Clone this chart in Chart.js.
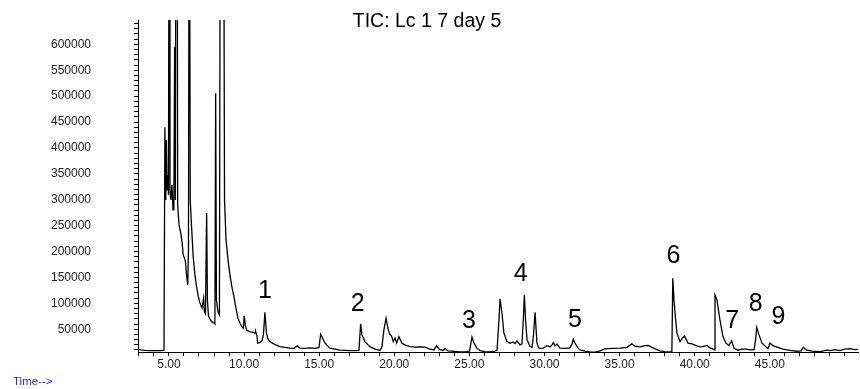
<!DOCTYPE html>
<html lang="en">
<head>
    <meta charset="UTF-8">
    <title>TIC: Lc 1 7 day 5</title>
    <script src="https://cdn.jsdelivr.net/npm/chart.js@4.4.1/dist/chart.umd.min.js"></script>
    <style>
        body {
            margin: 0;
            background: #fff;
        }
        #chart-box {
            width: 860px;
            height: 389px;
        }
    </style>
</head>
<body>
    <div id="chart-box"><canvas id="tic-chart"></canvas></div>

    <script>
        // retention time (min) and total ion count
        const times = [
            2.94, 3.14, 3.40, 3.73, 4.07, 4.40, 4.67, 4.73, 4.79, 4.83, 4.88, 4.93, 4.97, 5.02, 5.07, 5.13, 5.20, 5.27, 5.33, 5.38,
            5.43, 5.49, 5.53, 5.58, 5.67, 5.77, 5.87, 5.95, 6.03, 6.10, 6.17, 6.25, 6.30, 6.35, 6.42, 6.51, 6.62, 6.73, 6.84, 6.96,
            7.06, 7.20, 7.31, 7.36, 7.43, 7.51, 7.56, 7.63, 7.73, 7.86, 8.00, 8.06, 8.11, 8.16, 8.26, 8.36, 8.44, 8.50, 8.56, 8.62,
            8.70, 8.80, 8.93, 9.06, 9.19, 9.33, 9.46, 9.59, 9.73, 9.86, 9.95, 10.01, 10.09, 10.19, 10.39, 10.59, 10.73, 10.77, 10.86, 10.91,
            11.06, 11.19, 11.29, 11.39, 11.49, 11.59, 11.72, 11.92, 12.12, 12.39, 12.72, 13.06, 13.32, 13.54, 13.72, 14.05, 14.39, 14.72, 14.99, 15.10,
            15.22, 15.39, 15.59, 15.72, 16.05, 16.38, 16.72, 17.05, 17.38, 17.65, 17.76, 17.85, 18.05, 18.25, 18.38, 18.72, 19.05, 19.18, 19.31, 19.45,
            19.60, 19.71, 19.83, 19.93, 20.05, 20.16, 20.31, 20.51, 20.78, 21.05, 21.38, 21.71, 22.04, 22.38, 22.64, 22.82, 22.98, 23.24, 23.38, 23.58,
            23.84, 24.11, 24.37, 24.77, 25.01, 25.17, 25.31, 25.51, 25.71, 26.04, 26.37, 26.70, 26.84, 26.97, 27.04, 27.17, 27.30, 27.50, 27.70, 27.90,
            28.04, 28.17, 28.37, 28.50, 28.59, 28.66, 28.74, 28.84, 29.04, 29.17, 29.27, 29.37, 29.50, 29.63, 29.90, 30.15, 30.37, 30.50, 30.59, 30.70,
            30.83, 31.03, 31.37, 31.70, 31.83, 31.92, 32.03, 32.23, 32.36, 32.70, 33.03, 33.36, 33.70, 34.03, 34.49, 35.03, 35.49, 35.81, 36.03, 36.36,
            36.69, 36.91, 37.16, 37.36, 37.69, 38.02, 38.36, 38.48, 38.54, 38.62, 38.69, 38.82, 39.02, 39.15, 39.31, 39.42, 39.55, 39.82, 40.09, 40.35,
            40.55, 40.82, 41.02, 41.22, 41.31, 41.35, 41.48, 41.68, 41.88, 42.08, 42.28, 42.38, 42.46, 42.55, 42.62, 42.88, 43.15, 43.42, 43.68, 43.95,
            44.05, 44.13, 44.28, 44.48, 44.75, 44.88, 45.01, 45.21, 45.55, 45.88, 46.35, 46.81, 47.08, 47.23, 47.41, 47.81, 48.34, 48.81, 49.01, 49.34,
            49.67, 50.01, 50.34, 50.67, 50.87
        ];
        const abundance = [
            11400, 10000, 9100, 8700, 8500, 8700, 9100, 440000, 299600, 415400, 318900, 347900, 309300, 1200000, 318900, 299600, 328600, 280300, 309300, 594400,
            299600, 1500000, 1400000, 290000, 251400, 237800, 218500, 193400, 187600, 179900, 154800, 135500, 203100, 1100000, 299600, 245600, 187600, 154800, 131700, 112400,
            100800, 91100, 110400, 83400, 79500, 274500, 106600, 75700, 69900, 64100, 62200, 60200, 505600, 106600, 83400, 77600, 1300000, 1600000, 1500000, 1200000,
            299600, 222400, 183800, 154800, 131700, 112400, 91100, 71800, 61600, 54400, 51900, 75700, 56400, 47700, 45400, 43800, 42300, 45400, 37100, 23000,
            24500, 27400, 39000, 82800, 42900, 31300, 26100, 22600, 19700, 16400, 14900, 13300, 12900, 17800, 13300, 12900, 13900, 12900, 14900, 40300,
            33200, 23000, 16800, 13300, 11400, 9500, 9100, 8700, 8700, 9100, 60200, 39000, 26100, 19700, 16400, 11400, 9100, 16400, 48600, 71200,
            48600, 40000, 35700, 26100, 32600, 23600, 35700, 23000, 18700, 16400, 15400, 15800, 15300, 11400, 10000, 18300, 11400, 9100, 12900, 8100,
            7500, 6800, 6200, 6800, 7500, 34600, 23000, 13300, 8700, 6800, 6200, 7500, 9100, 68000, 108500, 80900, 42300, 26100, 23000, 25500,
            22200, 27400, 19700, 21600, 68000, 116200, 68000, 29300, 16400, 14900, 39000, 82800, 23000, 13300, 12900, 18300, 15800, 19700, 24100, 17800,
            21600, 13300, 12900, 13900, 21600, 30700, 23000, 13900, 10000, 7500, 6200, 5600, 8100, 12000, 12900, 13300, 14900, 21600, 17200, 15800,
            18300, 18700, 14900, 12000, 8100, 6800, 6200, 6200, 148500, 106600, 80900, 42300, 26100, 31300, 37100, 31300, 23000, 21600, 18300, 15800,
            16400, 18700, 13900, 11400, 10000, 116200, 106600, 68000, 35700, 23000, 18300, 23600, 27400, 19700, 13300, 9500, 11400, 11400, 10000, 10000,
            29300, 53100, 39000, 23000, 15800, 12500, 23000, 18300, 14900, 11400, 9100, 7500, 8100, 15300, 10000, 7500, 6800, 9500, 8700, 10600,
            8700, 11400, 12500, 10600, 11000
        ];

        // numbered peak labels: name, time and height where the number sits
        const peakNames = ['1', '2', '3', '4', '5', '6', '7', '8', '9'];
        const peakLabelTimes = [11.39, 17.56, 24.97, 28.42, 32.03, 38.58, 42.50, 44.06, 45.57];
        const peakLabelHeights = [122600, 98800, 66600, 156800, 68000, 190200, 64700, 98800, 74300];

        // labelled ticks
        const abundanceTicks = [50000, 100000, 150000, 200000, 250000, 300000, 350000, 400000, 450000, 500000, 550000, 600000];
        const timeTicks = [5, 10, 15, 20, 25, 30, 35, 40, 45];

        const chartTitle = 'TIC: Lc 1 7 day 5';
        const timeLabel = 'Time-->';

        const FONT = 'Arial, "Liberation Sans", sans-serif';

        const points = times.map((t, i) => ({ x: t, y: abundance[i] }));

        // minor tick marks every 10000 counts and every minute
        const yMinor = [];
        for (let v = 10000; v <= 640000; v += 10000) yMinor.push(v);
        const xMinor = [];
        for (let m = 3; m <= 50; m++) xMinor.push(m);

        // title, "Time-->", abundance labels and the peak numbers
        const textPlugin = {
            id: 'chromText',
            afterDraw(chart) {
                const ctx = chart.ctx;
                const xs = chart.scales.x;
                const ys = chart.scales.y;
                ctx.save();
                ctx.fillStyle = '#222';
                ctx.textAlign = 'right';
                ctx.textBaseline = 'middle';
                ctx.font = '12px ' + FONT;
                abundanceTicks.forEach(v => {
                    ctx.fillText(String(v), chart.chartArea.left - 47, ys.getPixelForValue(v));
                });
                ctx.fillStyle = '#000';
                ctx.textAlign = 'center';
                ctx.font = '25px ' + FONT;
                peakNames.forEach((name, i) => {
                    ctx.fillText(name, xs.getPixelForValue(peakLabelTimes[i]), ys.getPixelForValue(peakLabelHeights[i]));
                });
                ctx.font = '19.5px ' + FONT;
                ctx.fillText(chartTitle, 427, 22);
                ctx.fillStyle = '#2e2ea6';
                ctx.textAlign = 'left';
                ctx.font = '11.5px ' + FONT;
                ctx.fillText(timeLabel, 13, 382);
                ctx.restore();
            }
        };

        new Chart(document.getElementById('tic-chart'), {
            type: 'line',
            data: {
                datasets: [{
                    data: points,
                    borderColor: '#000',
                    borderWidth: 1.3,
                    pointRadius: 0,
                    tension: 0,
                    fill: false
                }]
            },
            options: {
                responsive: true,
                maintainAspectRatio: false,
                animation: false,
                layout: { padding: { top: 20, right: 2, left: 0, bottom: 0 } },
                plugins: {
                    legend: { display: false },
                    tooltip: { enabled: false },
                    title: { display: false }
                },
                scales: {
                    x: {
                        type: 'linear',
                        min: 2.94,
                        max: 50.87,
                        afterBuildTicks(scale) { scale.ticks = xMinor.map(v => ({ value: v })); },
                        afterFit(scale) { scale.height = 37; },
                        border: { display: true, color: '#000', width: 1 },
                        grid: { drawOnChartArea: false, tickLength: 4, color: '#000' },
                        ticks: {
                            autoSkip: false,
                            maxRotation: 0,
                            minRotation: 0,
                            padding: 1,
                            color: '#222',
                            font: { family: FONT, size: 12 },
                            callback: v => (timeTicks.includes(v) ? v.toFixed(2) : '')
                        }
                    },
                    y: {
                        min: 6000,
                        max: 647000,
                        afterBuildTicks(scale) { scale.ticks = yMinor.map(v => ({ value: v })); },
                        afterFit(scale) { scale.width = 138; },
                        border: { display: true, color: '#000', width: 1 },
                        grid: { drawOnChartArea: false, tickLength: 4, color: '#000' },
                        ticks: { display: false, autoSkip: false }
                    }
                }
            },
            plugins: [textPlugin]
        });
    </script>
</body>
</html>
